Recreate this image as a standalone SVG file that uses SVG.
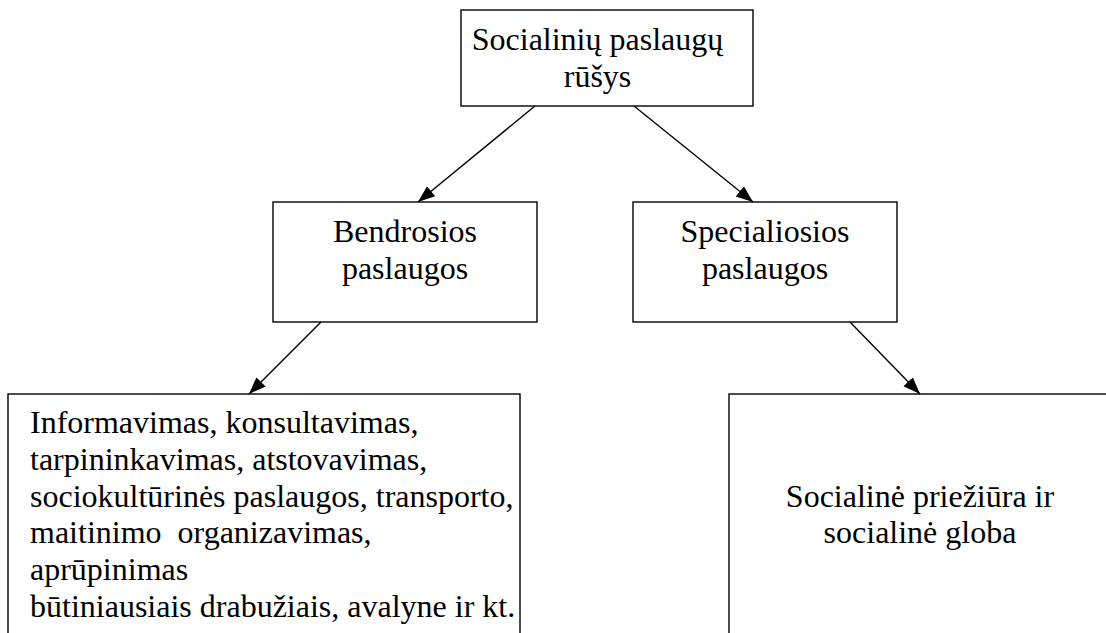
<svg xmlns="http://www.w3.org/2000/svg" width="1106" height="633" viewBox="0 0 1106 633">
  <style>
    .box { fill: #ffffff; stroke: #000000; stroke-width: 1.4; }
    .t { font-family: "Liberation Serif", "Times New Roman", serif; font-size: 32px; fill: #000000; }
    .c { text-anchor: middle; }
    .edge { stroke: #000000; stroke-width: 1.4; fill: none; marker-end: url(#arrow); }
  </style>
  <defs>
    <marker id="arrow" markerUnits="userSpaceOnUse" markerWidth="18" markerHeight="14" refX="17" refY="6.5" orient="auto">
      <path d="M0,0 L17,6.5 L0,13 Z" fill="#000000"/>
    </marker>
  </defs>
  <rect width="1106" height="633" fill="#ffffff"/>

  <g id="node-root">
    <rect class="box" x="461" y="10" width="292" height="96"/>
    <text class="t c" x="597.5" y="49.5">Socialinių paslaugų</text>
    <text class="t c" x="597.5" y="87">rūšys</text>
  </g>

  <g id="node-bendrosios">
    <rect class="box" x="273" y="202" width="264" height="120"/>
    <text class="t c" x="405" y="242">Bendrosios</text>
    <text class="t c" x="405" y="279">paslaugos</text>
  </g>

  <g id="node-specialiosios">
    <rect class="box" x="633" y="202" width="264" height="120"/>
    <text class="t c" x="765" y="242">Specialiosios</text>
    <text class="t c" x="765" y="279">paslaugos</text>
  </g>

  <g id="node-bendrosios-list">
    <rect class="box" x="8" y="394" width="512" height="260"/>
    <text class="t" x="30" y="433">Informavimas, konsultavimas,</text>
    <text class="t" x="30" y="470">tarpininkavimas, atstovavimas,</text>
    <text class="t" x="30" y="506.5">sociokultūrinės paslaugos, transporto,</text>
    <text class="t" x="30" y="543" xml:space="preserve" style="white-space: pre">maitinimo  organizavimas,</text>
    <text class="t" x="30" y="580">aprūpinimas</text>
    <text class="t" x="30" y="616.5">būtiniausiais drabužiais, avalyne ir kt.</text>
  </g>

  <g id="node-specialiosios-list">
    <rect class="box" x="729" y="394" width="382" height="260"/>
    <text class="t c" x="920" y="506.5">Socialinė priežiūra ir</text>
    <text class="t c" x="920" y="543">socialinė globa</text>
  </g>

  <g id="connectors">
    <line class="edge" x1="535" y1="106" x2="418" y2="202"/>
    <line class="edge" x1="634" y1="106" x2="753" y2="202"/>
    <line class="edge" x1="321" y1="322" x2="249" y2="394"/>
    <line class="edge" x1="850" y1="322" x2="920" y2="394"/>
  </g>
</svg>
